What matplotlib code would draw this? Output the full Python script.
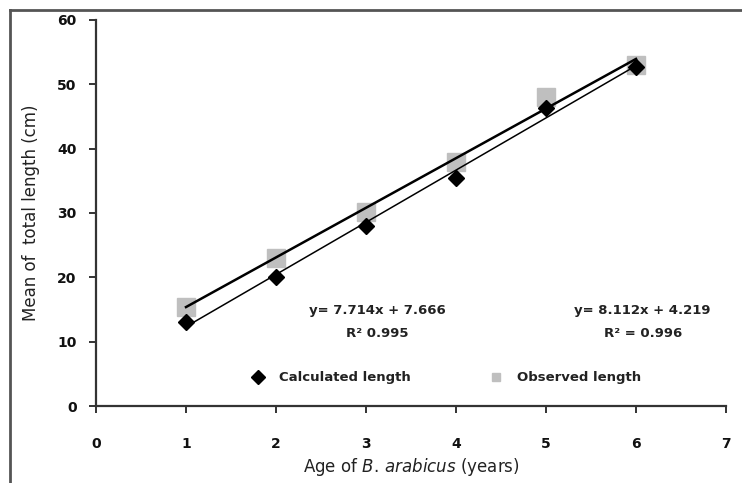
import matplotlib
matplotlib.use('Agg')
import matplotlib.pyplot as plt
from matplotlib.lines import Line2D
import numpy as np

plt.rcParams['font.family'] = ['DejaVu Sans']
plt.rcParams['mathtext.fontset'] = 'custom'
plt.rcParams['mathtext.rm'] = 'DejaVu Sans'
plt.rcParams['mathtext.it'] = 'DejaVu Sans:italic'

# data
age = [1, 2, 3, 4, 5, 6]
calculated = [13.0, 20.0, 28.0, 35.5, 46.3, 52.7]
observed = [15.4, 23.0, 30.2, 38.0, 48.0, 53.0]
obs_fit = [7.714, 7.666]    # slope, intercept
calc_fit = [8.112, 4.219]
x_ticks = [0, 1, 2, 3, 4, 5, 6, 7]
y_ticks = [0, 10, 20, 30, 40, 50, 60]

fig = plt.figure(figsize=(7.42, 4.83), dpi=100)
ax = fig.add_axes([96/742, 1 - 406/483, 630/742, 386/483])

xs = np.array([age[0], age[-1]])
ax.plot(age, observed, linestyle='none', marker='s', markersize=13,
        color='#bfbfbf', zorder=2)
ax.plot(xs, obs_fit[0] * xs + obs_fit[1], color='black', linewidth=1.8, zorder=3)
ax.plot(xs, calc_fit[0] * xs + calc_fit[1], color='black', linewidth=1.1, zorder=3)
ax.plot(age, calculated, linestyle='none', marker='D', markersize=8.5,
        color='black', zorder=4)

txt = dict(ha='center', va='center', fontsize=9.5, fontweight='bold', color='#222222')
ax.text(3.13, 14.9, 'y= 7.714x + 7.666', **txt)
ax.text(3.13, 11.3, 'R² 0.995', **txt)
ax.text(6.07, 14.9, 'y= 8.112x + 4.219', **txt)
ax.text(6.08, 11.3, 'R² = 0.996', **txt)

handles = [Line2D([], [], linestyle='none', marker='D', markersize=7, color='black'),
           Line2D([], [], linestyle='none', marker='s', markersize=6, color='#bfbfbf')]
leg = ax.legend(handles, ['Calculated length', 'Observed length'], ncol=2,
                loc='center', bbox_to_anchor=(0.556, 0.073), frameon=False,
                handlelength=1, handletextpad=1.1, columnspacing=6.0,
                prop={'size': 9.5, 'weight': 'bold'})
for t in leg.get_texts():
    t.set_color('#222222')

ax.set_xlim(0, 7)
ax.set_ylim(0, 60)
ax.set_xticks(x_ticks)
ax.set_yticks(y_ticks)
ax.tick_params(axis='y', direction='out', length=5, width=1.4, pad=9,
               labelsize=10, colors='#333333')
ax.tick_params(axis='x', direction='out', length=5, width=1.4, pad=17,
               labelsize=10, colors='#333333')
for lab in ax.get_xticklabels() + ax.get_yticklabels():
    lab.set_fontweight('bold')
    lab.set_color('#111111')

for s in ['top', 'right']:
    ax.spines[s].set_visible(False)
for s in ['left', 'bottom']:
    ax.spines[s].set_linewidth(1.6)
    ax.spines[s].set_color('#333333')

ax.set_ylabel('Mean of  total length (cm)', fontsize=12, color='#222222')
ax.yaxis.set_label_coords(-0.089, 0.5)
ax.set_xlabel(r'Age of $\mathit{B.\,arabicus}$ (years)', fontsize=12, color='#222222')
ax.xaxis.set_label_coords(0.5, -0.13)

# outer frame of the figure
bx, by = 10/742, 1 - 10/483
fig.add_artist(Line2D([bx, bx], [by, 0], transform=fig.transFigure,
                      color='#555555', linewidth=2))
fig.add_artist(Line2D([bx, 1], [by, by], transform=fig.transFigure,
                      color='#555555', linewidth=2))

fig.savefig('out.png', dpi=100)
